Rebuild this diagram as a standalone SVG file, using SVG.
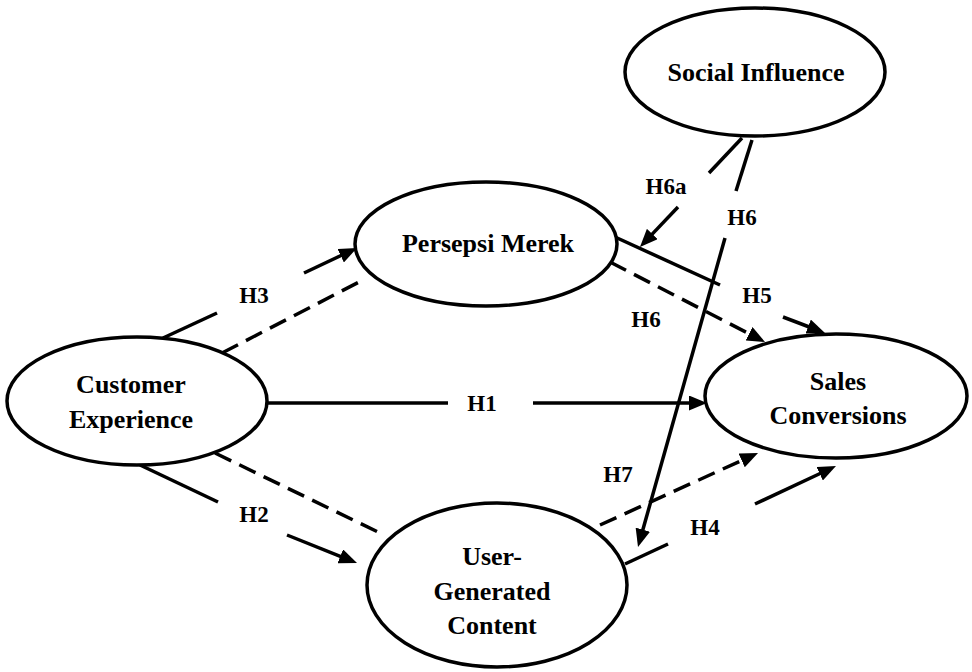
<svg xmlns="http://www.w3.org/2000/svg" width="972" height="672" viewBox="0 0 972 672">
<style>
.node ellipse{fill:#fff;stroke:#000;stroke-width:3.5}
.node text{font-family:"Liberation Serif","Times New Roman",serif;font-weight:bold;font-size:26px;text-anchor:middle;fill:#000}
.lbl{font-family:"Liberation Serif","Times New Roman",serif;font-weight:bold;font-size:23px;text-anchor:middle;fill:#000}
.ln{stroke:#000;stroke-width:3.5;fill:none}
.dash{stroke-dasharray:18 9}
.arr{marker-end:url(#ah)}
</style>
<defs>
<marker id="ah" markerUnits="userSpaceOnUse" markerWidth="18" markerHeight="15" refX="4" refY="7.5" orient="auto" viewBox="0 0 18 15">
<path d="M0,0 L18,7.5 L0,15 z" fill="#000"/>
</marker>
</defs>
<rect width="972" height="672" fill="#fff"/>
<g id="connectors">
<!-- H3 -->
<line class="ln" x1="163" y1="338" x2="217" y2="313"/>
<line class="ln arr" x1="304" y1="273" x2="344.3" y2="254"/>
<!-- dashed CE to PM -->
<line class="ln dash" x1="222" y1="353" x2="361" y2="281"/>
<!-- dashed PM to SC (H6) -->
<line class="ln dash arr" x1="610" y1="262" x2="752.6" y2="335.6"/>
<!-- H5 -->
<line class="ln" x1="615" y1="237" x2="720" y2="285"/>
<line class="ln arr" x1="783" y1="317" x2="811.9" y2="328"/>
<!-- H6a -->
<line class="ln" x1="742" y1="138" x2="709" y2="173"/>
<line class="ln arr" x1="678" y1="207" x2="649.6" y2="236.9"/>
<!-- H6 SI to UGC -->
<line class="ln" x1="752" y1="140" x2="736" y2="191"/>
<line class="ln arr" x1="725" y1="238" x2="641.8" y2="533.5"/>
<!-- H1 -->
<line class="ln" x1="267" y1="403" x2="448" y2="403"/>
<line class="ln arr" x1="533" y1="403" x2="693" y2="403"/>
<!-- H2 -->
<line class="ln" x1="140" y1="465" x2="218" y2="502"/>
<line class="ln arr" x1="287" y1="535" x2="344" y2="557.8"/>
<!-- dashed CE to UGC -->
<line class="ln dash" x1="215" y1="453" x2="380" y2="533"/>
<!-- dashed UGC to SC (H7) -->
<line class="ln dash arr" x1="600" y1="525" x2="745.3" y2="458.8"/>
<!-- H4 -->
<line class="ln" x1="625" y1="564" x2="668" y2="544"/>
<line class="ln arr" x1="755" y1="504" x2="823.3" y2="472"/>
</g>
<g id="labels">
<text class="lbl" x="254" y="303">H3</text>
<text class="lbl" x="666" y="194">H6a</text>
<text class="lbl" x="742" y="225">H6</text>
<text class="lbl" x="646" y="327">H6</text>
<text class="lbl" x="757" y="303">H5</text>
<text class="lbl" x="482" y="411">H1</text>
<text class="lbl" x="618" y="482">H7</text>
<text class="lbl" x="705" y="535">H4</text>
<text class="lbl" x="254" y="522">H2</text>
</g>
<g id="social-influence" class="node">
<ellipse cx="755" cy="72" rx="130" ry="64"/>
<text x="756" y="81">Social Influence</text>
</g>
<g id="persepsi-merek" class="node">
<ellipse cx="486" cy="244" rx="131" ry="62"/>
<text x="488" y="252">Persepsi Merek</text>
</g>
<g id="customer-experience" class="node">
<ellipse cx="137" cy="401" rx="130" ry="64"/>
<text x="131" y="393">Customer</text>
<text x="131" y="428">Experience</text>
</g>
<g id="sales-conversions" class="node">
<ellipse cx="836" cy="396" rx="131" ry="62"/>
<text x="838" y="390">Sales</text>
<text x="838" y="424">Conversions</text>
</g>
<g id="user-generated-content" class="node">
<ellipse cx="497" cy="585" rx="130" ry="82"/>
<text x="492" y="565">User-</text>
<text x="492" y="600">Generated</text>
<text x="492" y="634">Content</text>
</g>
</svg>
